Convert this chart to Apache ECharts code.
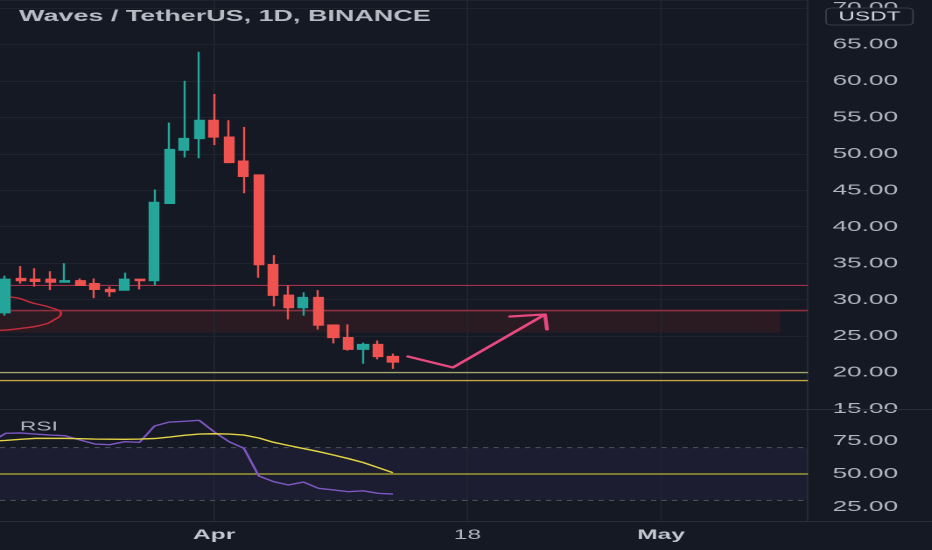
<!DOCTYPE html>
<html><head><meta charset="utf-8">
<script src="https://cdn.jsdelivr.net/npm/echarts@6/dist/echarts.min.js"></script>
<style>
html,body{margin:0;padding:0;background:#151924;overflow:hidden;width:932px;height:550px}
#c{width:532.57px;height:550px;transform:scaleX(1.75);transform-origin:0 0}
</style></head><body><div id="c"></div>
<script>
// ---------- data ----------
const chartTitle = 'Waves / TetherUS, 1D, BINANCE';
const dates = ['2022-03-18','2022-03-19','2022-03-20','2022-03-21','2022-03-22','2022-03-23','2022-03-24','2022-03-25','2022-03-26','2022-03-27','2022-03-28','2022-03-29','2022-03-30','2022-03-31','2022-04-01','2022-04-02','2022-04-03','2022-04-04','2022-04-05','2022-04-06','2022-04-07','2022-04-08','2022-04-09','2022-04-10','2022-04-11','2022-04-12','2022-04-13'];
const openP  = [28.2,32.9,32.8,32.8,32.4,32.6,32.2,31.4,31.3,32.8,32.6,43.2,50.5,52.1,54.6,52.3,49.0,47.1,34.8,30.6,28.9,30.3,26.5,24.8,23.2,23.85,22.2];
const closeP = [32.8,32.6,32.5,32.4,32.6,31.95,31.4,31.1,32.8,32.6,43.35,50.6,52.1,54.6,52.3,48.8,46.9,34.8,30.6,28.9,30.3,26.5,24.8,23.2,23.85,22.2,21.45];
const lowP   = [27.8,32.2,31.8,31.3,32.4,31.9,30.2,30.4,31.3,31.4,31.95,43.2,49.5,49.4,51.2,48.7,44.6,33.0,29.1,27.3,27.8,25.9,24.0,23.0,21.2,21.8,20.5];
const highP  = [33.3,34.6,34.3,33.9,35.0,32.9,32.9,31.8,33.7,32.8,45.1,54.3,60.0,64.0,58.2,54.6,53.7,47.1,36.1,31.95,31.0,31.3,26.6,26.6,24.1,24.4,22.6];

const rsiDates = ['2022-03-17'].concat(dates);
const rsiValues = [74.0,80.8,81.1,80.3,79.5,79.0,75.8,72.7,72.2,74.5,74.0,86.4,89.4,89.9,90.7,82.0,74.5,69.5,48.5,44.2,41.7,43.9,39.2,37.9,36.6,37.3,35.4,34.8];
const rsiMAValues = [75.0,75.4,76.3,77.0,77.0,77.0,76.8,76.5,76.4,76.3,76.5,76.9,78.0,79.3,80.3,80.5,80.3,79.5,77.3,74.0,71.6,69.3,67.0,64.4,61.7,58.7,54.9,51.0];

const timeTickDates = ['2022-04-01','2022-04-18','2022-05-01'];
const timeTickLabels = ['Apr','18','May'];
const rsiTickValues = [25,50,75];
const rsiBandLow = 30, rsiMid = 50, rsiBandHigh = 70;

const resistanceLevel = 31.95;
const zoneTop = 28.5, zoneBottom = 25.5, zoneEndDate = '2022-05-09';
const supportLevels = [20.0, 18.9];
const lastPrice = 21.45;
const quoteLabel = 'USDT';

// annotations, in days from first date and price
const ellipsePath = [[-0.37,30.4],[0.44,30.34],[1.85,29.52],[2.99,28.93],[3.72,28.15],[3.19,27.14],[2.32,26.46],[0.97,26.04],[-0.37,25.77]];
const arrowPath = [[27.01,22.2],[30.03,20.69],[36.21,27.97],[33.86,27.69],[36.21,27.97],[36.34,25.91]];

// ---------- helpers ----------
const base = Date.UTC(2022,2,18);
const day = s => (Date.parse(s + 'T00:00:00Z') - base) / 864e5;
const xMin = -0.37, xMax = 53.86;
const pMin = 15, pMax = 71.1, rMin = 14.4, rMax = 98.5;
const bg = '#151924', gridC = '#1f232e', vGridC = '#23272f', sepC = '#2a2e39', txt = '#b2b5be';
const FONT = 'Liberation Sans';

const candles = dates.map((d,i) => [day(d), openP[i], closeP[i], lowP[i], highP[i]]);
const rsiData = rsiDates.map((d,i) => [day(d), rsiValues[i]]);
const rsiMAData = rsiDates.map((d,i) => [day(d), rsiMAValues[i]]);
const tickDays = timeTickDates.map(day);

function seg(data, color, width, z, pane, extra) {
  return Object.assign({type: 'line', xAxisIndex: pane, yAxisIndex: pane, data: data, symbol: 'none',
    silent: true, z: z, lineStyle: {color: color, width: width}}, extra || {});
}
const hSeg = (y, color, width, z, pane, dash) =>
  seg([[xMin, y], [xMax, y]], color, width, z, pane, dash ? {lineStyle: {color: color, width: width, type: dash}} : null);
const vGrid = pane => tickDays.map(t => seg(pane === 0 ? [[t, pMin], [t, pMax]] : [[t, rMin], [t, rMax]], vGridC, 0.8, 1, pane));

const chart = echarts.init(document.getElementById('c'), null, {renderer:'canvas', devicePixelRatio: 2});
const W = 532.57, plotW = 461.71;

chart.setOption({
  animation: false,
  backgroundColor: bg,
  textStyle: {fontFamily: FONT},
  title: [
    {text: chartTitle, left: 10.9, top: 9, padding: 0,
     textStyle: {color: '#b8bbc4', fontSize: 15.4, fontWeight: 'bold', fontFamily: FONT}},
    {text: 'RSI', left: 11.4, top: 420.5, padding: 0,
     textStyle: {color: txt, fontSize: 13, fontWeight: 'normal', fontFamily: FONT}}
  ],
  grid: [
    {left: 0, top: 0, width: plotW, height: 409},
    {left: 0, top: 410, width: plotW, height: 111}
  ],
  xAxis: [
    {type: 'value', gridIndex: 0, min: xMin, max: xMax, show: false},
    {type: 'value', gridIndex: 1, min: xMin, max: xMax,
     axisLine: {show: false}, axisTick: {show: false}, splitLine: {show: false},
     axisLabel: {
       customValues: tickDays, margin: 7,
       formatter: v => {
         const i = tickDays.findIndex(t => Math.abs(t - v) < 1e-6);
         if (i < 0) return '';
         return (i === 1 ? '{n|' : '{b|') + timeTickLabels[i] + '}';
       },
       rich: {
         b: {fontSize: 14, fontWeight: 'bold', color: '#c3c6ce', fontFamily: FONT},
         n: {fontSize: 14, color: '#b2b5be', fontFamily: FONT}
       }
     }}
  ],
  yAxis: [
    {type: 'value', gridIndex: 0, position: 'right', min: pMin, max: pMax, interval: 5,
     axisLine: {show: true, onZero: false, lineStyle: {color: sepC, width: 0.8}},
     axisTick: {show: false},
     splitLine: {show: true, lineStyle: {color: gridC, width: 1}},
     axisLabel: {color: txt, fontSize: 15, margin: 14, showMaxLabel: false,
                 formatter: v => v.toFixed(2)}},
    {type: 'value', gridIndex: 1, position: 'right', min: rMin, max: rMax,
     axisLine: {show: true, onZero: false, lineStyle: {color: sepC, width: 0.8}},
     axisTick: {show: false},
     splitLine: {show: false},
     axisLabel: {color: txt, fontSize: 15, margin: 14, customValues: rsiTickValues,
                 formatter: v => v.toFixed(2)}}
  ],
  series: [
    {type: 'line', name: 'zone', xAxisIndex: 0, yAxisIndex: 0, data: [], z: 1, silent: true,
     markArea: {silent: true, itemStyle: {color: '#2a1b22'},
       data: [[{xAxis: xMin, yAxis: zoneTop}, {xAxis: day(zoneEndDate), yAxis: zoneBottom}]]}},
    ...vGrid(0),
    hSeg(resistanceLevel, '#a5304a', 1.2, 2, 0),
    hSeg(zoneTop, '#8e2f3e', 1.6, 2, 0),
    hSeg(supportLevels[0], '#a3a66c', 1.3, 2, 0),
    hSeg(supportLevels[1], '#c6a544', 1.3, 2, 0),
    seg(ellipsePath, '#c62c3c', 1.4, 2, 0, {smooth: 0.5}),
    {type: 'candlestick', name: 'WAVESUSDT', xAxisIndex: 0, yAxisIndex: 0, data: candles,
     encode: {x: 0, y: [1,2,3,4]}, barWidth: 5.6, z: 3, silent: true,
     itemStyle: {color: '#26a69a', color0: '#ef5350', borderColor: '#26a69a', borderColor0: '#ef5350', borderWidth: 1.2},
     markLine: {silent: true, symbol: 'none',
       data: [{yAxis: lastPrice, lineStyle: {opacity: 0, width: 0},
         label: {show: true, position: 'end', distance: 0, formatter: () => lastPrice.toFixed(2),
           color: '#ffffff', fontSize: 15, fontFamily: FONT, backgroundColor: '#f05350',
           padding: [2, 10, 1, 13], lineHeight: 15}}]}},
    seg(arrowPath, '#e84a80', 2.2, 4, 0, {lineStyle: {color: '#e84a80', width: 2.2, cap: 'round', join: 'round'}}),

    {type: 'line', name: 'rsiBand', xAxisIndex: 1, yAxisIndex: 1, data: [], z: 1, silent: true,
     markArea: {silent: true, itemStyle: {color: 'rgba(115,85,200,0.075)'},
       data: [[{yAxis: rsiBandLow}, {yAxis: rsiBandHigh}]]}},
    ...vGrid(1),
    hSeg(rsiBandHigh, '#50535e', 1, 2, 1, [3, 3]),
    hSeg(rsiBandLow, '#50535e', 1, 2, 1, [3, 3]),
    hSeg(rsiMid, '#b8b232', 1.2, 2, 1),
    seg(rsiData, '#7e57c2', 1.4, 3, 1, {name: 'RSI'}),
    seg(rsiMAData, '#e2d444', 1.4, 3, 1, {name: 'RSI MA'})
  ],
  graphic: [
    {type: 'line', shape: {x1: 0, y1: 409.5, x2: W, y2: 409.5}, style: {stroke: sepC, lineWidth: 1}, silent: true, z: 10},
    {type: 'line', shape: {x1: 0, y1: 521.5, x2: W, y2: 521.5}, style: {stroke: sepC, lineWidth: 1}, silent: true, z: 10},
    {type: 'rect', shape: {x: 472, y: 8, width: 49.7, height: 17, r: 3}, style: {fill: bg, stroke: '#434651', lineWidth: 0.8}, silent: true, z: 10},
    {type: 'text', x: 496.85, y: 16.8, style: {text: quoteLabel, fill: '#d1d4dc', font: '13px "Liberation Sans"', align: 'center', verticalAlign: 'middle'}, silent: true, z: 11}
  ]
});
</script></body></html>
